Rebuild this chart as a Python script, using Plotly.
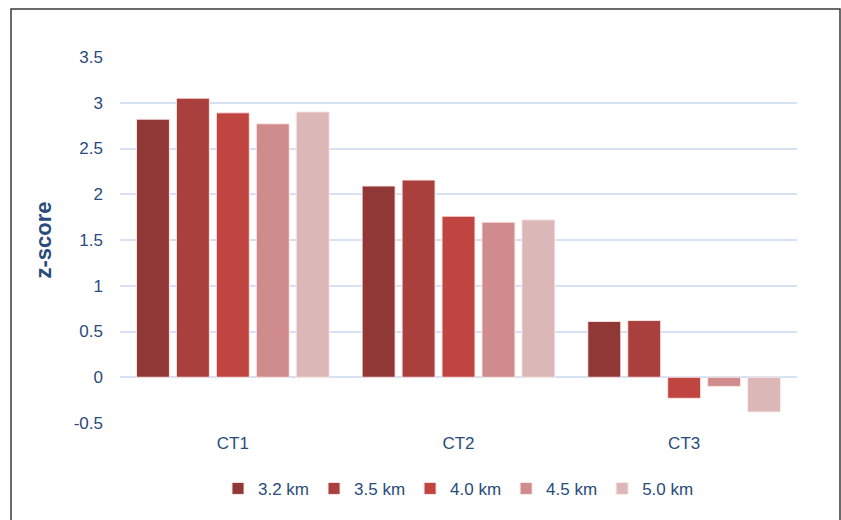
import plotly.graph_objects as go

categories = ["CT1", "CT2", "CT3"]
series_names = ["3.2 km", "3.5 km", "4.0 km", "4.5 km", "5.0 km"]
values_32 = [2.82, 2.09, 0.61]
values_35 = [3.05, 2.155, 0.62]
values_40 = [2.89, 1.76, -0.23]
values_45 = [2.77, 1.695, -0.10]
values_50 = [2.90, 1.72, -0.38]
y_ticks = [-0.5, 0, 0.5, 1, 1.5, 2, 2.5, 3, 3.5]
y_tick_labels = ["-0.5", "0", "0.5", "1", "1.5", "2", "2.5", "3", "3.5"]

series_values = [values_32, values_35, values_40, values_45, values_50]
colors = ["#903836", "#a9403e", "#c04541", "#d08c8c", "#dcb7b7"]
text_color = "#2a4b7c"

fig = go.Figure()
for name, vals, col in zip(series_names, series_values, colors):
    fig.add_trace(go.Bar(
        x=categories, y=vals, name=name,
        marker=dict(color=col, line=dict(color="rgba(255,235,235,0.9)", width=1)),
    ))

L, R, T, B = 120, 44, 57, 97
W, H = 841, 520
pw, ph = W - L - R, H - T - B

fig.update_layout(
    width=W, height=H,
    margin=dict(l=L, r=R, t=T, b=B, autoexpand=False),
    paper_bgcolor="white", plot_bgcolor="white",
    barmode="group", bargap=0.115, bargroupgap=0.175,
    font=dict(family="Liberation Sans, Arial", size=17, color=text_color),
    showlegend=True,
    legend=dict(orientation="h", x=0.5, xanchor="center", y=-0.18, yanchor="middle",
                font=dict(size=17, color=text_color), itemwidth=30,
                traceorder="normal", tracegroupgap=0),
    xaxis=dict(showgrid=False, showline=False, ticks="", ticklabelstandoff=8,
               tickfont=dict(size=17, color=text_color)),
    yaxis=dict(range=[-0.5, 3.5], tickvals=y_ticks, ticktext=y_tick_labels,
               showgrid=True, gridcolor="#d6e2f3", gridwidth=1.5,
               zeroline=True, zerolinecolor="#d6e2f3", zerolinewidth=1.5,
               showline=False, ticks="", ticklabelstandoff=16,
               tickfont=dict(size=17, color=text_color),
               title=dict(text="<b>z-score</b>", standoff=16,
                          font=dict(size=22, color=text_color))),
)

# outer chart frame
fig.add_shape(type="rect", xref="paper", yref="paper",
              x0=(11 - L) / pw, x1=(840 - L) / pw,
              y0=(H - B - 530) / ph, y1=(H - B - 9) / ph,
              line=dict(color="#3a3a3a", width=1.5), fillcolor="rgba(0,0,0,0)",
              layer="below")

fig.write_html("out.html")
